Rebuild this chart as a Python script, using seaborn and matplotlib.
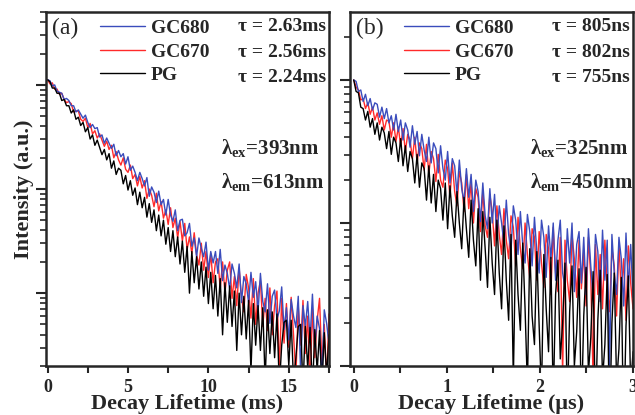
import numpy as np
import pandas as pd
import matplotlib
matplotlib.use('Agg')
import matplotlib.pyplot as plt
import seaborn as sns
from matplotlib.ticker import MultipleLocator, LogLocator, NullFormatter

# log10 intensity in hundredths of a decade
# panel (a): 0 .. 17.5 ms
blue_a = [5, 4, -1, 0, -6, -7, -8, -14, -13, -15, -20, -20, -26, -24, -28, -32, -29, -36, -41, -38,
          -42, -41, -50, -48, -56, -51, -56, -61, -57, -68, -63, -69, -66, -76, -69, -82, -78, -84, -92, -84,
          -90, -97, -89, -107, -98, -103, -113, -102, -115, -110, -125, -110, -125, -131, -120, -140, -130, -129, -145, -142,
          -133, -155, -147, -165, -147, -157, -165, -151, -178, -160, -171, -160, -181, -158, -188, -173, -181, -196, -172, -181,
          -195, -172, -209, -184, -191, -209, -180, -204, -189, -218, -181, -208, -218, -191, -229, -203, -197, -225, -217, -194,
          -235, -214, -245, -206, -222, -233, -203, -275, -212, -232, -208, -244, -201, -252, -222, -234, -285, -216, -229, -249]
red_a = [5, 1, 2, -4, -4, -9, -8, -14, -17, -16, -18, -26, -25, -25, -33, -35, -32, -41, -37, -47,
         -44, -51, -47, -53, -59, -54, -62, -58, -70, -64, -72, -77, -70, -81, -84, -77, -90, -86, -97, -88,
         -99, -92, -109, -100, -106, -117, -104, -121, -112, -128, -120, -134, -118, -137, -128, -147, -131, -150, -133, -158,
         -146, -162, -142, -163, -173, -152, -178, -160, -185, -162, -190, -170, -167, -196, -170, -200, -178, -170, -205, -184,
         -212, -176, -204, -218, -182, -195, -224, -186, -230, -200, -188, -232, -205, -236, -195, -240, -212, -198, -275, -205,
         -248, -210, -252, -204, -240, -280, -212, -250, -207, -258, -222, -290, -215, -262, -226, -205, -268, -230, -285, -220]
black_a = [5, 3, -3, -3, -8, -8, -15, -14, -20, -20, -27, -24, -33, -31, -39, -36, -45, -41, -52, -48,
           -58, -53, -60, -67, -62, -72, -66, -80, -73, -86, -80, -82, -95, -87, -101, -92, -106, -99, -115, -103,
           -118, -108, -127, -114, -132, -120, -140, -125, -145, -130, -153, -137, -160, -140, -165, -146, -172, -150, -180, -155,
           -200, -160, -190, -165, -196, -170, -203, -175, -210, -180, -215, -183, -222, -186, -240, -190, -228, -193, -232, -198,
           -255, -200, -240, -203, -244, -207, -275, -210, -250, -212, -255, -214, -285, -216, -258, -218, -262, -220, -290, -250,
           -228, -226, -270, -226, -285, -262, -232, -230, -290, -232, -272, -233, -295, -235, -275, -236, -290, -238, -280, -240]

# panel (b): 0 .. 3 us
blue_b = [0, -1, -8, -7, -15, -10, -18, -13, -21, -16, -17, -26, -19, -27, -20, -30, -25, -35, -24, -36,
          -28, -42, -30, -35, -47, -32, -45, -36, -53, -38, -49, -57, -40, -58, -44, -48, -65, -46, -62, -70,
          -50, -72, -55, -60, -80, -56, -76, -85, -62, -82, -66, -92, -70, -78, -99, -72, -95, -104, -76, -100,
          -80, -112, -88, -100, -115, -84, -108, -120, -88, -98, -122, -92, -115, -128, -94, -106, -130, -96, -120, -135,
          -98, -110, -138, -102, -125, -100, -140, -112, -98, -135, -145, -104, -128, -100, -148, -115, -106, -142, -110, -150,
          -104, -130, -152, -108, -120, -155, -105, -140, -112, -200, -108, -135, -150, -110, -125, -158, -107, -145, -115, -152]
red_b = [0, -5, -7, -14, -13, -20, -16, -24, -19, -28, -23, -31, -25, -35, -28, -29, -40, -30, -43, -33,
         -46, -34, -50, -38, -42, -55, -40, -58, -44, -48, -63, -45, -66, -50, -55, -71, -52, -70, -75, -56,
         -62, -82, -58, -78, -88, -64, -72, -92, -66, -90, -72, -100, -76, -82, -106, -78, -102, -110, -80, -92,
         -116, -88, -108, -122, -90, -112, -125, -95, -103, -130, -96, -118, -132, -100, -122, -138, -104, -110, -140, -106,
         -128, -145, -108, -118, -150, -103, -135, -148, -110, -205, -112, -140, -155, -108, -125, -152, -112, -146, -120, -158,
         -110, -138, -210, -115, -150, -122, -160, -112, -145, -162, -118, -130, -165, -114, -150, -125, -168, -116, -142, -160]
black_b = [0, -8, -9, -19, -20, -28, -22, -33, -27, -38, -30, -42, -33, -37, -48, -36, -52, -40, -44, -57,
           -41, -60, -46, -64, -50, -55, -72, -52, -75, -58, -62, -84, -60, -86, -66, -92, -70, -76, -98, -72,
           -104, -74, -95, -110, -78, -100, -118, -82, -104, -124, -84, -112, -130, -90, -140, -92, -118, -145, -96, -128,
           -150, -98, -135, -160, -102, -140, -168, -108, -210, -112, -150, -175, -114, -160, -215, -118, -165, -185, -120, -172,
           -220, -122, -160, -190, -124, -225, -150, -126, -195, -170, -128, -230, -162, -130, -200, -176, -132, -235, -165, -131,
           -205, -180, -134, -240, -168, -133, -210, -185, -136, -245, -170, -135, -212, -188, -138, -250, -172, -137, -215, -190]

samples = ['GC680', 'GC670', 'PG']
colors = {'GC680': '#3a4cbc', 'GC670': '#ff2a2a', 'PG': '#000000'}
draw_order = ['GC670', 'GC680', 'PG']
tau_a = ['τ = 2.63ms', 'τ = 2.56ms', 'τ = 2.24ms']
tau_b = ['τ = 805ns', 'τ = 802ns', 'τ = 755ns']

t_a = np.linspace(0, 17.5, len(blue_a))
t_b = np.linspace(0, 3.0, len(blue_b))


def frame(t, series):
    parts = []
    for name, vals in zip(samples, series):
        parts.append(pd.DataFrame({'t': t, 'I': 10 ** (np.array(vals) / 100.0), 'sample': name}))
    return pd.concat(parts, ignore_index=True)


df_a = frame(t_a, [blue_a, red_a, black_a])
df_b = frame(t_b, [blue_b, red_b, black_b])

sns.set_style('ticks')
plt.rcParams['font.family'] = ['Liberation Serif', 'DejaVu Serif']
plt.rcParams['mathtext.fontset'] = 'custom'
plt.rcParams['mathtext.rm'] = 'Liberation Serif:bold'
plt.rcParams['mathtext.bf'] = 'Liberation Serif:bold'
plt.rcParams['mathtext.it'] = 'Liberation Serif:bold'

fig = plt.figure(figsize=(6.35, 4.15), dpi=100)
ax_a = fig.add_axes([0.0724, 0.118, 0.4457, 0.853])
ax_b = fig.add_axes([0.5512, 0.118, 0.4457, 0.853])

panels = [
    (ax_a, df_a, (-0.1, 17.5), (10 ** -2.7, 10 ** 0.7), 5, 2.5, 'Decay Lifetime (ms)', '(a)', tau_a,
     ['λ$_{ex}$=393nm', 'λ$_{em}$=613nm'], 0.62),
    (ax_b, df_b, (-0.04, 3.0), (10 ** -2.0, 10 ** 0.475), 1, 0.5, 'Decay Lifetime (μs)', '(b)', tau_b,
     ['λ$_{ex}$=325nm', 'λ$_{em}$=450nm'], 0.635),
]

for ax, df, xlim, ylim, xmaj, xmin, xlabel, tag, taus, lams, lx in panels:
    sns.lineplot(data=df, x='t', y='I', hue='sample', hue_order=draw_order, palette=colors,
                 linewidth=1.0, estimator=None, sort=False, legend=False, ax=ax)
    ax.set_yscale('log')
    ax.set_xlim(*xlim)
    ax.set_ylim(*ylim)
    ax.xaxis.set_major_locator(MultipleLocator(xmaj))
    ax.xaxis.set_minor_locator(MultipleLocator(xmin))
    ax.yaxis.set_major_locator(LogLocator(base=10))
    ax.yaxis.set_minor_locator(LogLocator(base=10, subs=np.arange(2, 10)))
    ax.yaxis.set_major_formatter(NullFormatter())
    ax.yaxis.set_minor_formatter(NullFormatter())
    ax.tick_params(axis='x', which='both', direction='out', length=5, width=1.5,
                   labelsize=13, pad=4)
    ax.tick_params(axis='y', which='major', direction='out', length=7, width=1.5)
    ax.tick_params(axis='y', which='minor', direction='out', length=4, width=1.2)
    for lab in ax.get_xticklabels():
        lab.set_fontweight('bold')
    for s in ax.spines.values():
        s.set_visible(True)
        s.set_linewidth(1.8)
    ax.set_xlabel(xlabel, fontsize=16, fontweight='bold', labelpad=-1)
    ax.set_ylabel('')
    ax.text(0.02, 0.953, tag, transform=ax.transAxes, fontsize=17, va='center', ha='left')
    lines = dict(zip(draw_order, ax.get_lines()[:3]))
    ax.legend(handles=[lines[s] for s in samples], labels=samples, loc='upper left',
              bbox_to_anchor=(0.15, 1.012), frameon=False, handlelength=2.3,
              handletextpad=0.3, labelspacing=0.3, borderaxespad=0.2,
              prop={'weight': 'bold', 'size': 14})
    for k, tt in enumerate(taus):
        ax.text(0.99, 0.958 - 0.071 * k, tt, transform=ax.transAxes, ha='right', va='center',
                fontsize=14, fontweight='bold')
    ax.text(lx, 0.615, lams[0], transform=ax.transAxes, ha='left', va='center',
            fontsize=15, fontweight='bold')
    ax.text(lx, 0.52, lams[1], transform=ax.transAxes, ha='left', va='center',
            fontsize=15, fontweight='bold')

ax_a.set_ylabel('Intensity (a.u.)', fontsize=16, fontweight='bold', labelpad=-2)

fig.savefig('out.png', dpi=100)
